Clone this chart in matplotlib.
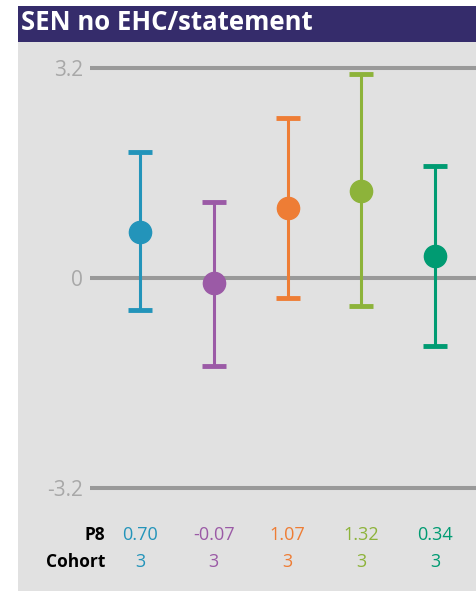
import numpy as np
import matplotlib
matplotlib.use("Agg")
import matplotlib.pyplot as plt
from matplotlib.patches import Rectangle

plt.rcParams['font.family'] = ['Open Sans', 'DejaVu Sans']

# data
p8 = [0.70, -0.07, 1.07, 1.32, 0.34]
upper = [1.92, 1.16, 2.44, 3.11, 1.71]
lower = [-0.49, -1.34, -0.30, -0.43, -1.04]
cohort = [3, 3, 3, 3, 3]
p8_labels = ["0.70", "-0.07", "1.07", "1.32", "0.34"]
colors = ["#2394BA", "#9B5AA6", "#EE7D35", "#8DB33A", "#009B72"]
yticks = [-3.2, 0, 3.2]
ytick_labels = ["-3.2", "0", "3.2"]
title = "SEN no EHC/statement"

W, H = 477, 591
fig = plt.figure(figsize=(W / 100, H / 100), dpi=100)
fig.patch.set_facecolor("white")

def px(x0, y0, x1, y1):
    # pixel box (top-left origin) -> figure fraction rect
    return [x0 / W, 1 - y1 / H, (x1 - x0) / W, (y1 - y0) / H]

# grey panel and title bar
r = px(18, 42, 477, 591)
fig.patches.append(Rectangle((r[0], r[1]), r[2], r[3], transform=fig.transFigure,
                             facecolor="#E1E1E1", edgecolor="none", zorder=-5))
r = px(18, 6, 477, 42)
fig.patches.append(Rectangle((r[0], r[1]), r[2], r[3], transform=fig.transFigure,
                             facecolor="#352C6B", edgecolor="none", zorder=-5))
fig.text(21 / W, 1 - 23 / H, title, color="white", fontsize=18.5, fontweight="bold",
         va="center", ha="left")

# main axes: 3.2 at y=68px, -3.2 at y=488px
unit = (488 - 68) / 6.4
ax_top, ax_bot = 50, 500
ax = fig.add_axes(px(90, ax_top, 477, ax_bot))
ax.set_facecolor("none")
ax.set_ylim(-3.2 - (ax_bot - 488) / unit, 3.2 + (68 - ax_top) / unit)
step = 73.75
ax.set_xlim(-(140 - 90) / step, (477 - 140) / step)

for y in yticks:
    ax.axhline(y, color="#999999", lw=2.9, zorder=1)

x = np.arange(len(p8))
for i in range(len(p8)):
    ax.errorbar(x[i], p8[i], yerr=[[p8[i] - lower[i]], [upper[i] - p8[i]]],
                fmt="o", color=colors[i], ms=16, elinewidth=2.2, capsize=8.3,
                capthick=3.5, zorder=3)

ax.set_yticks(yticks)
ax.set_yticklabels(ytick_labels, color="#A8A8A8", fontsize=15)
ax.tick_params(axis="y", length=0, pad=5)
ax.set_xticks([])
for s in ax.spines.values():
    s.set_visible(False)

# table rows under the chart
for yy, lab in [(535, "P8"), (562, "Cohort")]:
    fig.text(105 / W, 1 - yy / H, lab, ha="right", va="center", fontsize=12.5,
             fontweight="bold", color="black")
for i in range(len(p8)):
    xp = ax.transData.transform((x[i], 0))[0] / fig.dpi / fig.get_figwidth()
    fig.text(xp, 1 - 535 / H, p8_labels[i], ha="center", va="center",
             fontsize=13, color=colors[i])
    fig.text(xp, 1 - 562 / H, str(cohort[i]), ha="center", va="center",
             fontsize=13, color=colors[i])

fig.savefig("out.png", dpi=100)
